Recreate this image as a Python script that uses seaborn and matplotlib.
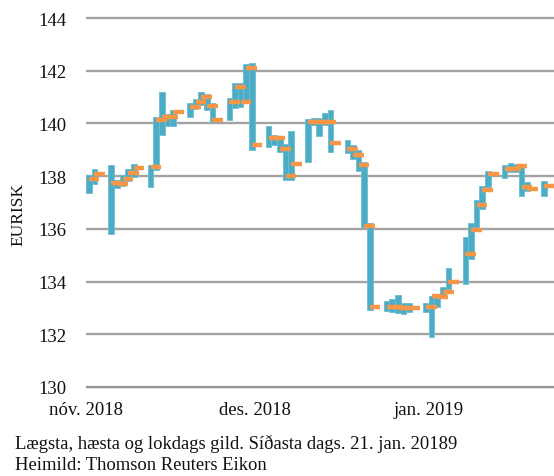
import matplotlib
matplotlib.use("Agg")
import matplotlib.pyplot as plt
import matplotlib.dates as mdates
import seaborn as sns
import pandas as pd

# ---- data ----
dates = ["2018-11-01", "2018-11-02", "2018-11-05", "2018-11-06", "2018-11-07", "2018-11-08",
         "2018-11-09", "2018-11-12", "2018-11-13", "2018-11-14", "2018-11-15", "2018-11-16",
         "2018-11-19", "2018-11-20", "2018-11-21", "2018-11-22", "2018-11-23", "2018-11-26",
         "2018-11-27", "2018-11-28", "2018-11-29", "2018-11-30",
         "2018-12-03", "2018-12-04", "2018-12-05", "2018-12-06", "2018-12-07", "2018-12-10",
         "2018-12-11", "2018-12-12", "2018-12-13", "2018-12-14", "2018-12-17", "2018-12-18",
         "2018-12-19", "2018-12-20", "2018-12-21", "2018-12-24", "2018-12-25", "2018-12-26",
         "2018-12-27", "2018-12-28", "2018-12-31",
         "2019-01-01", "2019-01-02", "2019-01-03", "2019-01-04", "2019-01-07", "2019-01-08",
         "2019-01-09", "2019-01-10", "2019-01-11", "2019-01-14", "2019-01-15", "2019-01-16",
         "2019-01-17", "2019-01-18", "2019-01-21"]
high = [138.04, 138.27, 138.42, 137.85, 138.03, 138.26, 138.48, 138.43, 140.23, 141.21, 140.36, 140.52,
        140.77, 140.93, 141.19, 141.10, 140.77, 140.98, 141.55, 141.55, 142.25, 142.29,
        139.89, 139.57, 139.45, 139.21, 139.72, 140.17, 140.19, 140.20, 140.38, 140.52, 139.39, 139.17,
        138.98, 138.54, 136.23, 133.25, 133.33, 133.50, 133.20, 133.20, 133.17,
        133.45, 133.46, 133.79, 134.51, 135.71, 136.22, 137.11, 137.62, 138.20, 138.44, 138.51, 138.48,
        138.48, 137.78, 137.81]
low = [137.37, 137.72, 135.82, 137.55, 137.62, 137.80, 137.98, 137.58, 138.25, 139.56, 139.91, 139.91,
       140.23, 140.55, 140.70, 140.51, 140.04, 140.13, 140.58, 140.64, 140.80, 138.98,
       139.11, 139.20, 138.90, 137.86, 137.87, 138.54, 139.95, 139.52, 139.94, 138.93, 138.88, 138.64,
       138.18, 136.06, 132.92, 132.88, 132.86, 132.80, 132.78, 132.85, 132.85,
       131.88, 133.03, 133.39, 133.70, 133.90, 134.85, 136.06, 136.75, 137.58, 137.94, 138.14, 138.16,
       137.24, 137.43, 137.26]
close = [137.90, 138.09, 137.75, 137.71, 137.90, 138.13, 138.32, 138.35, 140.14, 140.23, 140.25, 140.42,
         140.64, 140.83, 141.02, 140.68, 140.14, 140.83, 141.40, 140.83, 142.09, 139.19,
         139.43, 139.46, 139.04, 138.00, 138.47, 140.04, 140.04, 140.04, 140.07, 139.26, 139.03, 138.81,
         138.42, 136.10, 133.05, 133.05, 133.02, 133.00, 133.00, 133.00, 133.04,
         133.44, 133.40, 133.62, 134.00, 135.03, 135.94, 136.89, 137.47, 138.08, 138.29, 138.29, 138.39,
         137.59, 137.52, 137.63]
month_ticks = ["2018-11-01", "2018-12-01", "2019-01-01"]
month_labels = ["nóv. 2018", "des. 2018", "jan. 2019"]
y_ticks = [130, 132, 134, 136, 138, 140, 142, 144]
y_label = "EURISK"
caption = ["Lægsta, hæsta og lokdags gild. Síðasta dags. 21. jan. 20189",
           "Heimild: Thomson Reuters Eikon"]

# ---- style ----
sns.set_style("white")
plt.rcParams['font.family'] = ['Liberation Serif', 'DejaVu Serif']

W, H = 554, 477
fig = plt.figure(figsize=(W / 100, H / 100), dpi=100)
ax_left, ax_right, ax_bottom, ax_top = 86, 554, 388, 16.4
ax = fig.add_axes([ax_left / W, 1 - ax_bottom / H, (ax_right - ax_left) / W, (ax_bottom - ax_top) / H])

df = pd.DataFrame(dict(date=pd.to_datetime(dates), high=high, low=low, close=close))
xc = mdates.date2num(df["date"]) + 0.5

blue = "#4BACC6"
orange = "#F79646"
grid_c = "#A3A3A3"

ax.bar(xc, df["high"] - df["low"], bottom=df["low"], width=1.0, color=blue,
       edgecolor="#6FBCD2", linewidth=0.6, zorder=3)
ax.hlines(df["close"], xc, xc + 1.9, color=orange, lw=3.2, zorder=4)

x0 = mdates.date2num(pd.Timestamp(month_ticks[0]))
ax.set_xlim(x0, x0 + (ax_right - ax_left) / 5.62)
ax.set_ylim(130, 144.1)

ax.set_yticks(y_ticks)
ax.set_yticklabels([str(t) for t in y_ticks])
ax.yaxis.grid(True, color=grid_c, lw=1.7, zorder=0)
ax.xaxis.grid(False)

ax.set_xticks(mdates.date2num(pd.to_datetime(month_ticks)))
ax.set_xticklabels(month_labels)

for s in ["left", "top", "right"]:
    ax.spines[s].set_visible(False)
ax.spines["bottom"].set_color("#8C8C8C")
ax.spines["bottom"].set_linewidth(1.0)

ax.tick_params(axis="y", length=0, pad=14, labelsize=13.5, labelcolor="#111111")
ax.tick_params(axis="x", length=4, width=1.0, color="#8C8C8C", direction="out", pad=6,
               labelsize=13.5, labelcolor="#111111")

fig.text(18 / W, 1 - 214 / H, y_label, rotation=90, ha="center", va="center",
         fontsize=12.5, color="#111111")
fig.text(15 / W, 1 - 444 / H, caption[0], ha="left", va="center", fontsize=13.4, color="#111111")
fig.text(15 / W, 1 - 466 / H, caption[1], ha="left", va="center", fontsize=13.4, color="#111111")

fig.savefig("out.png", dpi=100)
